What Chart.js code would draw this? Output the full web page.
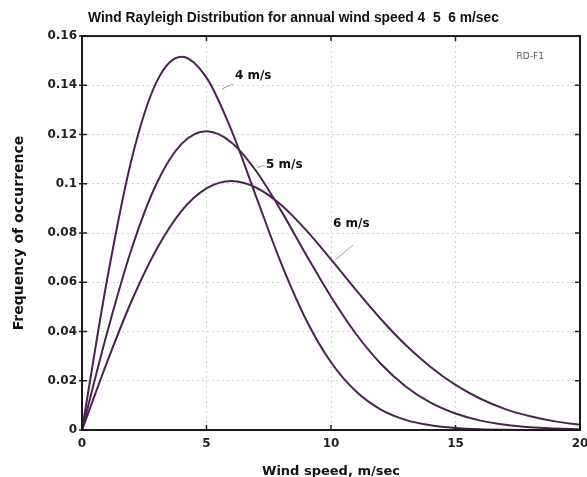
<!DOCTYPE html>
<html>
<head>
<meta charset="utf-8">
<script src="https://cdn.jsdelivr.net/npm/chart.js@4"></script>
<style>
html,body{margin:0;padding:0;background:#fff;}
#wrap{width:587px;height:477px;}
</style>
</head>
<body>
<div id="wrap"><canvas id="c" width="587" height="477"></canvas></div>
<script>
// ---- data ----
const windSpeeds = [0,1,2,3,4,5,6,7,8,9,10,11,12,13,14,15,16,17,18,19,20];
const freq4 = [0,0.0606,0.1103,0.1415,0.1516,0.1431,0.1218,0.0946,0.0677,0.0448,0.0275,0.0157,0.0083,0.0041,0.0019,0.0008,0.0003,0.0001,0.00004,0,0];
const freq5 = [0,0.0392,0.0738,0.1002,0.1162,0.1213,0.1168,0.1051,0.0890,0.0712,0.0541,0.0391,0.0269,0.0177,0.0111,0.0067,0.0038,0.0021,0.0011,0.0006,0.0003];
const freq6 = [0,0.0274,0.0526,0.0735,0.0890,0.0981,0.1011,0.0984,0.0914,0.0812,0.0693,0.0569,0.0451,0.0345,0.0256,0.0183,0.0127,0.0085,0.0056,0.0035,0.0021];
const seriesNames = ['4 m/s','5 m/s','6 m/s'];
const xTicks = [0,5,10,15,20];
const yTicks = [0,0.02,0.04,0.06,0.08,0.1,0.12,0.14,0.16];

const titleText = 'Wind Rayleigh Distribution for annual wind speed 4  5  6 m/sec';
const xTitle = 'Wind speed, m/sec';
const yTitle = 'Frequency of occurrence';
const tagText = 'RD-F1';

// annotation placements (data coordinates)
const annots = [
  {text: seriesNames[0], x: 6.14, y: 0.1438, lx1: 5.62, ly1: 0.1385, lx2: 6.06, ly2: 0.1405},
  {text: seriesNames[1], x: 7.39, y: 0.1076, lx1: 7.05, ly1: 0.1066, lx2: 7.30, ly2: 0.1074},
  {text: seriesNames[2], x: 10.08, y: 0.0837, lx1: 10.16, ly1: 0.0690, lx2: 10.88, ly2: 0.0751}
];

const toXY = arr => arr.map((v,i)=>({x: windSpeeds[i], y: v}));
const lineColor = '#4a2350';
const FONT = 'DejaVu Sans';

const framePlugin = {
  id: 'frame',
  afterDraw(chart) {
    const {ctx, chartArea: a, scales} = chart;
    const xs = scales.x, ys = scales.y;
    ctx.save();
    // ticks inward
    ctx.strokeStyle = '#222';
    ctx.lineWidth = 1.5;
    ctx.beginPath();
    xTicks.forEach(t => {
      const px = xs.getPixelForValue(t);
      ctx.moveTo(px, a.bottom); ctx.lineTo(px, a.bottom - 5);
      ctx.moveTo(px, a.top); ctx.lineTo(px, a.top + 5);
    });
    yTicks.forEach(t => {
      const py = ys.getPixelForValue(t);
      ctx.moveTo(a.left - 3, py); ctx.lineTo(a.left + 5, py);
      ctx.moveTo(a.right, py); ctx.lineTo(a.right - 5, py);
    });
    ctx.stroke();
    // frame
    ctx.strokeStyle = '#1a1a1a';
    ctx.lineWidth = 2;
    ctx.strokeRect(a.left, a.top, a.right - a.left, a.bottom - a.top);
    // annotations
    ctx.fillStyle = '#111';
    ctx.font = 'bold 12px "' + FONT + '"';
    ctx.textBaseline = 'middle';
    ctx.textAlign = 'left';
    annots.forEach(an => {
      ctx.fillText(an.text, xs.getPixelForValue(an.x), ys.getPixelForValue(an.y));
      ctx.strokeStyle = '#999';
      ctx.lineWidth = 1;
      ctx.beginPath();
      ctx.moveTo(xs.getPixelForValue(an.lx1), ys.getPixelForValue(an.ly1));
      ctx.lineTo(xs.getPixelForValue(an.lx2), ys.getPixelForValue(an.ly2));
      ctx.stroke();
    });
    ctx.fillStyle = '#555';
    ctx.font = '9px "' + FONT + '"';
    ctx.textAlign = 'center';
    ctx.fillText(tagText, xs.getPixelForValue(18.0), ys.getPixelForValue(0.1515));
    ctx.restore();
  }
};

new Chart(document.getElementById('c'), {
  type: 'line',
  data: {
    datasets: [
      {label: seriesNames[0], data: toXY(freq4)},
      {label: seriesNames[1], data: toXY(freq5)},
      {label: seriesNames[2], data: toXY(freq6)}
    ].map(d => Object.assign(d, {borderColor: lineColor, borderWidth: 2, pointRadius: 0, cubicInterpolationMode: 'monotone', fill: false}))
  },
  options: {
    responsive: false,
    animation: false,
    layout: {padding: {left: 0, right: 0, top: 0, bottom: 0}},
    plugins: {
      legend: {display: false},
      tooltip: {enabled: false},
      title: {
        display: true, text: titleText, color: '#111',
        font: {family: 'Liberation Sans', size: 13.8, weight: 'bold', lineHeight: 1.2},
        padding: {top: 10, bottom: 9.5}
      }
    },
    scales: {
      x: {
        type: 'linear', min: 0, max: 20,
        afterBuildTicks: s => { s.ticks = xTicks.map(v => ({value: v})); },
        afterFit: s => { s.height = 47; s.paddingRight = 7; s.paddingLeft = 0; },
        ticks: {color: '#222', font: {family: FONT, size: 12, weight: 'bold'}, padding: 7, maxRotation: 0},
        grid: {color: '#d2d2d2', lineWidth: 1, drawTicks: false},
        border: {display: false, dash: [2, 3]},
        title: {display: true, text: xTitle, color: '#111', font: {family: FONT, size: 13, weight: 'bold', lineHeight: 0.85}, padding: {top: 0, bottom: 0}}
      },
      y: {
        type: 'linear', min: 0, max: 0.16,
        afterBuildTicks: s => { s.ticks = yTicks.map(v => ({value: v})); },
        afterFit: s => { s.width = 82; },
        ticks: {color: '#222', font: {family: FONT, size: 12, weight: 'bold'}, padding: 5,
          callback: v => String(parseFloat(Number(v).toFixed(2)))},
        grid: {color: '#d2d2d2', lineWidth: 1, drawTicks: false},
        border: {display: false, dash: [2, 3]},
        title: {display: true, text: yTitle, color: '#111', font: {family: FONT, size: 14, weight: 'bold', lineHeight: 1.2}, padding: {top: 11, bottom: 0}}
      }
    }
  },
  plugins: [framePlugin]
});
</script>
</body>
</html>
